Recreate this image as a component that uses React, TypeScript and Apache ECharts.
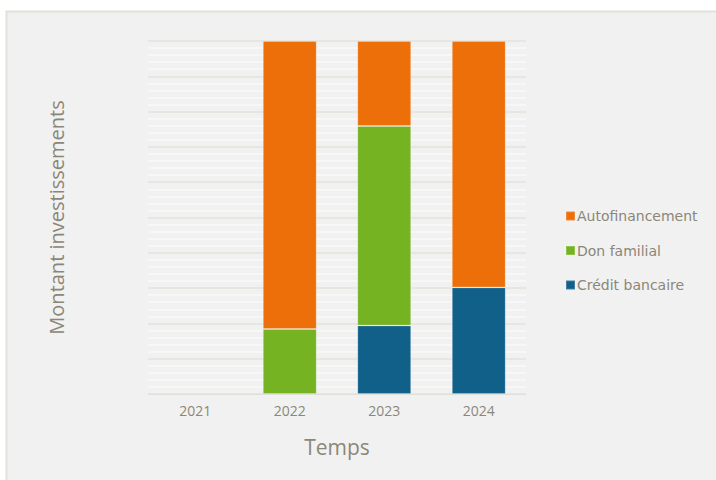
import React, { useEffect, useRef } from "react";
import * as echarts from "echarts";

const years = ["2021", "2022", "2023", "2024"];
const creditBancaire = [null, null, 19.4, 30.2];
const donFamilial = [null, 18.4, 56.5, null];
const autofinancement = [null, 81.6, 24.1, 69.8];
const legendOrder = ["Autofinancement", "Don familial", "Crédit bancaire"];

const textColor = "#8b8778";

export default function App() {
  const ref = useRef<HTMLDivElement>(null);
  useEffect(() => {
    if (!ref.current) return;
    const chart = echarts.init(ref.current, null, { renderer: "svg" });
    const barStyle = (color: string) => ({
      color,
      borderColor: "rgba(255,255,255,0.2)",
      borderWidth: 1,
    });
    chart.setOption({
      animation: false,
      graphic: [
        {
          type: "rect",
          z: -10,
          silent: true,
          shape: { x: 6.5, y: 11.5, width: 730, height: 490 },
          style: { fill: "#f1f1f1", stroke: "#e2e2dc", lineWidth: 2 },
        },
      ],
      grid: { left: 148, right: 190, top: 41, bottom: 86 },
      legend: {
        orient: "vertical",
        left: 565,
        top: 209,
        padding: 0,
        itemWidth: 9,
        itemHeight: 9,
        itemGap: 20.5,
        icon: "rect",
        data: legendOrder,
        textStyle: { color: textColor, fontSize: 14, fontFamily: "DejaVu Sans", padding: [0, 0, 0, -3] },
      },
      xAxis: {
        type: "category",
        data: years,
        name: "Temps",
        nameLocation: "middle",
        nameGap: 42,
        nameTextStyle: { color: textColor, fontSize: 21, fontFamily: "Open Sans" },
        axisLine: { lineStyle: { color: "#e0e0da", width: 1 } },
        axisTick: { show: false },
        axisLabel: { color: textColor, fontSize: 14, fontFamily: "Open Sans", margin: 9 },
      },
      yAxis: {
        type: "value",
        min: 0,
        max: 100,
        interval: 10,
        name: "Montant investissements",
        nameLocation: "middle",
        nameRotate: 90,
        nameGap: 82,
        nameTextStyle: { color: textColor, fontSize: 20, fontFamily: "Open Sans" },
        axisLabel: { show: false },
        axisLine: { show: false },
        axisTick: { show: false },
        splitLine: { show: true, lineStyle: { color: "#e3e3dd", width: 1.5 } },
        minorTick: { show: false, splitNumber: 5 },
        minorSplitLine: { show: true, lineStyle: { color: "#f8f8f8", width: 1.5 } },
      },
      series: [
        {
          name: "Crédit bancaire",
          type: "bar",
          stack: "total",
          barWidth: "57%",
          data: creditBancaire,
          itemStyle: barStyle("#10608a"),
        },
        {
          name: "Don familial",
          type: "bar",
          stack: "total",
          data: donFamilial,
          itemStyle: barStyle("#75b322"),
        },
        {
          name: "Autofinancement",
          type: "bar",
          stack: "total",
          data: autofinancement,
          itemStyle: barStyle("#ec6f0a"),
        },
      ],
    });
    return () => chart.dispose();
  }, []);
  return (
    <div
      ref={ref}
      style={{ position: "absolute", left: 0, top: 0, width: 716, height: 480, background: "#ffffff" }}
    />
  );
}
